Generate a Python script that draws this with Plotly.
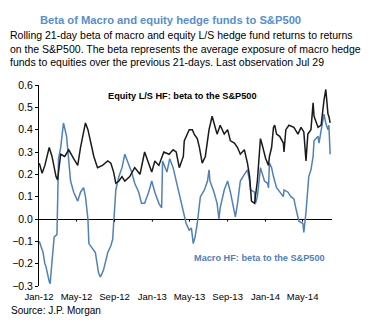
import plotly.graph_objects as go

# Equity L/S HF beta to S&P500
eq_dates = ["2012-01-02","2012-01-11","2012-01-20","2012-02-03","2012-02-12","2012-02-25","2012-03-01",
"2012-03-11","2012-03-24","2012-04-06","2012-04-22","2012-05-05","2012-05-14","2012-05-30","2012-06-07",
"2012-06-16","2012-06-26","2012-07-08","2012-07-24","2012-08-10","2012-08-20","2012-08-29","2012-09-05",
"2012-09-15","2012-09-25","2012-10-04","2012-10-20","2012-11-05","2012-11-22","2012-12-07","2012-12-20",
"2012-12-30","2013-01-09","2013-01-22","2013-02-07","2013-02-24","2013-03-09","2013-03-19","2013-03-29",
"2013-04-11","2013-04-14","2013-04-30","2013-05-10","2013-05-16","2013-05-26","2013-06-02","2013-06-11",
"2013-06-21","2013-07-03","2013-07-13","2013-07-19","2013-07-29","2013-08-08","2013-08-21","2013-09-01",
"2013-09-10","2013-09-23","2013-10-03","2013-10-12","2013-10-25","2013-11-04","2013-11-11","2013-11-17",
"2013-11-27","2013-12-06","2013-12-12","2013-12-16","2013-12-22","2014-01-02","2014-01-11","2014-01-14",
"2014-01-21","2014-01-27","2014-01-31","2014-02-06","2014-02-16","2014-02-28","2014-03-02","2014-03-08",
"2014-03-18","2014-04-03","2014-04-16","2014-04-26","2014-05-05","2014-05-12","2014-05-18","2014-05-28",
"2014-06-04","2014-06-07","2014-06-20","2014-06-30","2014-07-09","2014-07-15","2014-07-22","2014-07-25",
"2014-07-29"]
eq_beta = [0.25,0.205,0.24,0.32,0.28,0.19,0.175,
0.29,0.28,0.31,0.27,0.24,0.32,0.43,0.40,
0.34,0.28,0.23,0.24,0.26,0.25,0.21,0.16,
0.17,0.19,0.17,0.19,0.23,0.20,0.30,0.25,
0.21,0.26,0.24,0.30,0.29,0.31,0.30,0.23,
0.28,0.35,0.40,0.40,0.38,0.36,0.32,0.25,
0.28,0.40,0.46,0.43,0.38,0.42,0.38,0.40,
0.35,0.34,0.32,0.29,0.31,0.25,0.19,0.08,
0.07,0.17,0.28,0.36,0.33,0.27,0.24,0.28,
0.32,0.41,0.42,0.38,0.37,0.34,0.30,0.40,
0.42,0.41,0.38,0.41,0.39,0.26,0.38,0.40,
0.52,0.46,0.41,0.42,0.53,0.58,0.47,0.46,
0.43]

# Macro HF beta to S&P500
mac_dates = ["2012-01-02","2012-01-14","2012-01-20","2012-01-23","2012-02-03","2012-02-06","2012-02-12",
"2012-02-19","2012-02-28","2012-03-01","2012-03-04","2012-03-11","2012-03-20","2012-03-30","2012-04-06",
"2012-04-12","2012-04-22","2012-05-05","2012-05-14","2012-05-24","2012-05-30","2012-06-07","2012-06-10",
"2012-06-22","2012-07-01","2012-07-11","2012-07-17","2012-07-27","2012-08-10","2012-08-20","2012-08-26",
"2012-08-29","2012-09-05","2012-09-15","2012-09-25","2012-10-04","2012-10-16","2012-10-26","2012-11-05",
"2012-11-18","2012-11-27","2012-12-07","2012-12-20","2012-12-30","2013-01-09","2013-01-22","2013-01-31",
"2013-02-03","2013-02-17","2013-02-26","2013-03-09","2013-03-19","2013-03-29","2013-04-11","2013-04-20",
"2013-04-30","2013-05-07","2013-05-13","2013-05-19","2013-05-26","2013-06-02","2013-06-05","2013-06-18",
"2013-06-28","2013-07-03","2013-07-06","2013-07-19","2013-07-29","2013-08-04","2013-08-08","2013-08-21",
"2013-09-01","2013-09-10","2013-09-23","2013-09-26","2013-10-03","2013-10-12","2013-10-25","2013-11-04",
"2013-11-11","2013-11-14","2013-11-27","2013-11-30","2013-12-06","2013-12-12","2013-12-16","2013-12-29",
"2014-01-08","2014-01-11","2014-01-14","2014-01-21","2014-01-27","2014-02-06","2014-02-16","2014-02-28",
"2014-03-02","2014-03-15","2014-03-24","2014-04-03","2014-04-09","2014-04-16","2014-04-19","2014-05-02",
"2014-05-05","2014-05-12","2014-05-18","2014-05-21","2014-05-28","2014-06-04","2014-06-07","2014-06-20",
"2014-06-23","2014-06-30","2014-07-09","2014-07-15","2014-07-22","2014-07-25","2014-07-28","2014-07-29"]
mac_beta = [-0.10,-0.15,-0.20,-0.21,-0.28,-0.29,-0.19,
-0.08,-0.07,0.17,0.27,0.32,0.43,0.37,0.26,
0.17,0.12,0.08,0.12,0.14,0.10,0.0,-0.11,
-0.13,-0.15,-0.24,-0.26,-0.23,-0.15,-0.12,-0.09,
-0.02,0.13,0.19,0.23,0.29,0.25,0.21,0.16,
0.12,0.07,0.07,0.12,0.17,0.12,0.07,0.05,
0.26,0.21,0.27,0.23,0.17,0.10,0.03,-0.02,
-0.05,-0.04,-0.11,-0.08,-0.02,0.05,0.10,0.13,
0.17,0.22,0.17,0.12,0.07,0.00,0.05,0.13,
0.17,0.12,0.03,0.01,0.07,0.17,0.20,0.22,
0.17,0.13,0.12,0.07,0.10,0.19,0.23,0.17,
0.16,0.14,0.25,0.23,0.19,0.14,0.12,0.10,
0.13,0.12,0.10,0.09,0.05,0.01,-0.01,-0.02,
-0.06,0.03,0.12,0.19,0.22,0.28,0.35,0.37,
0.34,0.40,0.47,0.43,0.40,0.42,0.32,0.29]

tick_vals = ["2012-01-01","2012-05-01","2012-09-01","2013-01-01","2013-05-01","2013-09-01","2014-01-01","2014-05-01"]
tick_text = ["Jan-12","May-12","Sep-12","Jan-13","May-13","Sep-13","Jan-14","May-14"]
y_ticks = [-0.3,-0.2,-0.1,0.0,0.1,0.2,0.3,0.4,0.5,0.6]

BLUE = "#4F81BD"
TITLE_BLUE = "#558ED5"
SANS = "Liberation Sans, Arial"

fig = go.Figure()
fig.add_trace(go.Scatter(x=mac_dates, y=mac_beta, mode="lines",
                         line=dict(color=BLUE, width=1.5), showlegend=False))
fig.add_trace(go.Scatter(x=eq_dates, y=eq_beta, mode="lines",
                         line=dict(color="#1a1a1a", width=1.5), showlegend=False))

shapes = []
for tv in tick_vals[1:]:
    shapes.append(dict(type="line", xref="x", yref="y", x0=tv, x1=tv, y0=0, y1=-0.012,
                       line=dict(color="black", width=1)))

fig.update_layout(
    width=368, height=324,
    margin=dict(l=37, r=36, t=85, b=38),
    paper_bgcolor="white", plot_bgcolor="white",
    font=dict(family=SANS, size=11, color="black"),
    shapes=shapes,
    xaxis=dict(range=["2012-01-01", "2014-08-04"], tickmode="array", tickvals=tick_vals,
               ticktext=tick_text, showgrid=False, zeroline=False, showline=False,
               ticks="", tickfont=dict(family=SANS, size=9.5), tickangle=0,
               ticklabelstandoff=3),
    yaxis=dict(range=[-0.3, 0.6], tickmode="array", tickvals=y_ticks, tickformat=".1f",
               showgrid=False, zeroline=True, zerolinecolor="black", zerolinewidth=1.2,
               showline=True, linecolor="black", linewidth=1, ticks="outside", ticklen=3,
               tickcolor="black", tickfont=dict(family=SANS, size=10.5)),
    annotations=[
        dict(text="<b>Beta of Macro and equity hedge funds to S&P500</b>", xref="paper", yref="paper",
             x=(169-37)/295, y=1, xanchor="center", yanchor="middle", showarrow=False,
             font=dict(family=SANS, size=11.2, color=TITLE_BLUE), yshift=65),
        dict(text="Rolling 21-day beta of macro and equity L/S hedge fund returns to returns<br>"
                  "on the S&P500. The beta represents the average exposure of macro hedge<br>"
                  "funds to equities over the previous 21-days. Last observation Jul 29",
             xref="paper", yref="paper", x=0, y=1, xanchor="left", yanchor="top", align="left",
             xshift=-31, yshift=58, showarrow=False,
             font=dict(family=SANS, size=10.5, color="black")),
        dict(text="<b>Equity L/S HF: beta to the S&P500</b>", xref="paper", yref="paper",
             x=(181-37)/295, y=(286-96)/201, xanchor="center", yanchor="middle", showarrow=False,
             font=dict(family=SANS, size=9.2, color="black")),
        dict(text="<b>Macro HF: beta to the S&P500</b>", xref="paper", yref="paper",
             x=(259-37)/295, y=(286-258)/201, xanchor="center", yanchor="middle", showarrow=False,
             font=dict(family=SANS, size=9.2, color=BLUE)),
        dict(text="Source: J.P. Morgan", xref="paper", yref="paper", x=0, y=0,
             xanchor="left", yanchor="middle", xshift=-30, yshift=-24, showarrow=False,
             font=dict(family=SANS, size=10, color="black")),
    ],
)

fig.write_html("out.html")
